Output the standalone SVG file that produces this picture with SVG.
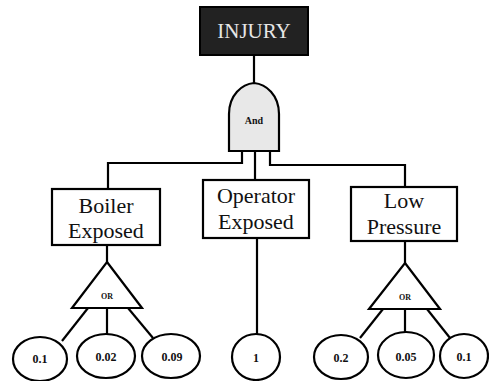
<svg xmlns="http://www.w3.org/2000/svg" width="489" height="381" viewBox="0 0 489 381">
<style>
.ln{fill:none;stroke:#000;stroke-width:2.2}
.box{fill:#fff;stroke:#000;stroke-width:2.2}
.ev{fill:#fff;stroke:#000;stroke-width:2.2}
text{font-family:'Liberation Serif','Tinos','Times New Roman','DejaVu Serif',serif}
.lbl{font-size:22px;fill:#111;text-anchor:middle}
.num{font-size:12px;font-weight:bold;fill:#111;text-anchor:middle}
.gt{font-size:8px;font-weight:bold;fill:#111;text-anchor:middle}
</style>
<rect width="489" height="381" fill="#fff"/>
<g id="connectors">
<line class="ln" x1="254" y1="55" x2="254" y2="84"/>
<polyline class="ln" points="242,151 242,163 108,163 108,190"/>
<line class="ln" x1="255" y1="151" x2="255" y2="180"/>
<polyline class="ln" points="270,151 270,165 405,165 405,187"/>
<line class="ln" x1="107" y1="245" x2="107" y2="262"/>
<line class="ln" x1="405" y1="241" x2="405" y2="263"/>
<line class="ln" x1="88" y1="308" x2="62" y2="341"/>
<line class="ln" x1="107" y1="308" x2="107" y2="334"/>
<line class="ln" x1="128" y1="308" x2="153" y2="338"/>
<line class="ln" x1="257" y1="238" x2="257" y2="334"/>
<line class="ln" x1="383" y1="309" x2="360" y2="338"/>
<line class="ln" x1="405" y1="309" x2="405" y2="333"/>
<line class="ln" x1="427" y1="309" x2="450" y2="338"/>
</g>
<g id="injury">
<rect x="200" y="7" width="108" height="48" fill="#222" stroke="#000" stroke-width="2"/>
<text x="254" y="38" class="lbl" style="fill:#e6e6e6;font-size:21px">INJURY</text>
</g>
<g id="and-gate">
<path d="M229,151 V114 C229,95 242,84 254,83 C266,84 279,95 279,114 V151 Z" fill="#e8e8e8" stroke="#000" stroke-width="2.2"/>
<text x="254" y="124" class="num" style="font-size:10px">And</text>
</g>
<g id="boiler-exposed">
<rect class="box" x="52" y="189" width="108" height="56"/>
<text x="106" y="213" class="lbl">Boiler</text>
<text x="106" y="238" class="lbl">Exposed</text>
</g>
<g id="operator-exposed">
<rect class="box" x="203" y="180" width="106" height="58"/>
<text x="256" y="203" class="lbl">Operator</text>
<text x="256" y="229" class="lbl">Exposed</text>
</g>
<g id="low-pressure">
<rect class="box" x="351" y="187" width="106" height="54"/>
<text x="404" y="208" class="lbl">Low</text>
<text x="404" y="234" class="lbl">Pressure</text>
</g>
<g id="or-left">
<polygon class="box" points="107,262 142,308 72,308"/>
<text x="107" y="299" class="gt">OR</text>
</g>
<g id="or-right">
<polygon class="box" points="405,263 440,309 369,309"/>
<text x="405" y="300" class="gt">OR</text>
</g>
<g id="e-0.1a"><ellipse class="ev" cx="40" cy="359" rx="27" ry="22"/><text x="40" y="363" class="num">0.1</text></g>
<g id="e-0.02"><ellipse class="ev" cx="106" cy="356" rx="29" ry="22"/><text x="106" y="361" class="num">0.02</text></g>
<g id="e-0.09"><ellipse class="ev" cx="171" cy="356" rx="29" ry="22"/><text x="172" y="361" class="num">0.09</text></g>
<g id="e-1"><ellipse class="ev" cx="256" cy="357" rx="24" ry="23"/><text x="256" y="362" class="num">1</text></g>
<g id="e-0.2"><ellipse class="ev" cx="341" cy="357" rx="27" ry="22"/><text x="341" y="362" class="num">0.2</text></g>
<g id="e-0.05"><ellipse class="ev" cx="406" cy="355" rx="28" ry="23"/><text x="406" y="361" class="num">0.05</text></g>
<g id="e-0.1b"><ellipse class="ev" cx="464" cy="356" rx="24" ry="22"/><text x="464" y="361" class="num">0.1</text></g>
</svg>
